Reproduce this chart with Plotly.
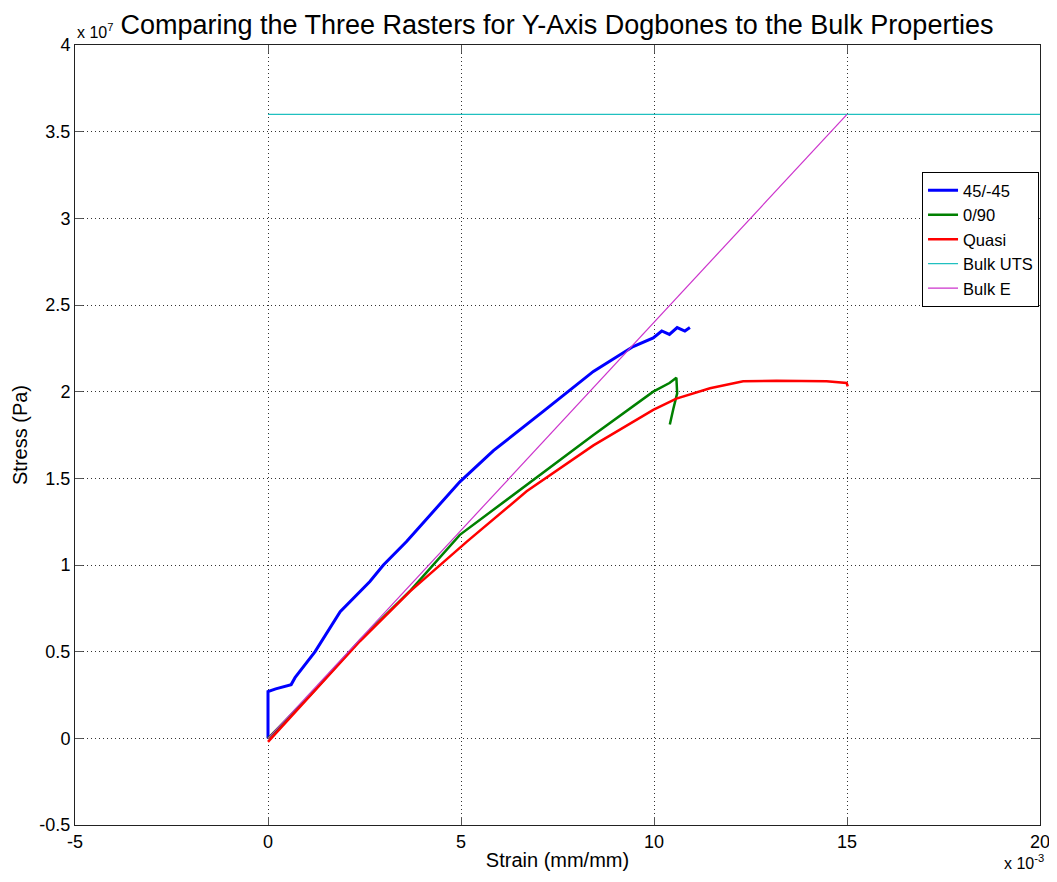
import plotly.graph_objects as go

# ---- data (strain in mm/mm, stress in Pa) ----
blue_strain = [0, 0, 0.0002, 0.0006, 0.0007, 0.00122, 0.00187, 0.00264, 0.00299, 0.00359,
               0.00497, 0.00584, 0.00713, 0.00843, 0.00946, 0.00998, 0.0102, 0.0104,
               0.0106, 0.0108, 0.01093]
blue_stress = [0, 2.7e6, 2.85e6, 3.1e6, 3.5e6, 5.0e6, 7.3e6, 9.05e6, 1.0e7, 1.136e7,
               1.48e7, 1.66e7, 1.886e7, 2.117e7, 2.26e7, 2.31e7, 2.35e7, 2.33e7,
               2.37e7, 2.35e7, 2.37e7]

green_strain = [0, 0.0011, 0.0024, 0.0037, 0.00497, 0.0067, 0.00843, 0.00998, 0.0104,
                0.01058, 0.0106, 0.0105, 0.01043, 0.01041]
green_stress = [0, 2.5e6, 5.7e6, 8.55e6, 1.174e7, 1.46e7, 1.75e7, 2.0e7, 2.05e7,
                2.08e7, 1.99e7, 1.9e7, 1.83e7, 1.81e7]

red_strain = [0, 0.0011, 0.00238, 0.00368, 0.00516, 0.0067, 0.00843, 0.00998, 0.01058,
              0.01145, 0.01231, 0.01317, 0.01447, 0.01499, 0.01502]
red_stress = [-2e5, 2.5e6, 5.6e6, 8.48e6, 1.136e7, 1.425e7, 1.69e7, 1.895e7, 1.96e7,
              2.02e7, 2.06e7, 2.063e7, 2.06e7, 2.05e7, 2.03e7]

uts_strain = [0, 0.020]
uts_stress = [3.6e7, 3.6e7]

bulkE_strain = [0, 0.015]
bulkE_stress = [0, 3.6e7]

x_tickvals = [-0.005, 0, 0.005, 0.010, 0.015, 0.020]
x_ticktext = ["-5", "0", "5", "10", "15", "20"]
y_tickvals = [-0.5e7, 0, 0.5e7, 1e7, 1.5e7, 2e7, 2.5e7, 3e7, 3.5e7, 4e7]
y_ticktext = ["-0.5", "0", "0.5", "1", "1.5", "2", "2.5", "3", "3.5", "4"]

FONT = "Liberation Sans, Arial, sans-serif"

fig = go.Figure()
fig.add_trace(go.Scatter(x=blue_strain, y=blue_stress, mode="lines", name="45/-45",
                         line=dict(color="#0000FF", width=3)))
fig.add_trace(go.Scatter(x=green_strain, y=green_stress, mode="lines", name="0/90",
                         line=dict(color="#008000", width=2.5)))
fig.add_trace(go.Scatter(x=red_strain, y=red_stress, mode="lines", name="Quasi",
                         line=dict(color="#FF0000", width=2.5)))
fig.add_trace(go.Scatter(x=uts_strain, y=uts_stress, mode="lines", name="Bulk UTS",
                         line=dict(color="#20C0C0", width=1.2)))
fig.add_trace(go.Scatter(x=bulkE_strain, y=bulkE_stress, mode="lines", name="Bulk E",
                         line=dict(color="#CC33CC", width=1.2)))

axis_common = dict(
    showline=True, linecolor="#222222", linewidth=1, mirror="allticks",
    ticks="inside", ticklen=8, tickcolor="#555555",
    showgrid=True, gridcolor="#333333", griddash="1px,3px", gridwidth=1,
    zeroline=False, tickfont=dict(family=FONT, size=18, color="black"),
    automargin=False, ticklabeloverflow="allow",
)

fig.update_xaxes(range=[-0.005, 0.020], tickvals=x_tickvals, ticktext=x_ticktext,
                 title=dict(text="Strain (mm/mm)", font=dict(family=FONT, size=20, color="black"),
                            standoff=2),
                 **axis_common)
fig.update_yaxes(range=[-0.5e7, 4e7], tickvals=y_tickvals, ticktext=y_ticktext,
                 title=dict(text="Stress (Pa)", font=dict(family=FONT, size=20, color="black"),
                            standoff=6),
                 **axis_common)

fig.update_layout(
    width=1049, height=866,
    margin=dict(l=67, r=17, t=37, b=49, autoexpand=False),
    paper_bgcolor="white", plot_bgcolor="white",
    font=dict(family=FONT, color="black"),
    title=dict(text="Comparing the Three Rasters for Y-Axis Dogbones to the Bulk Properties",
               font=dict(family=FONT, size=27, color="black"),
               x=0.5233, xanchor="center", y=0.981, yanchor="middle"),
    showlegend=True,
    legend=dict(x=0.999, xanchor="right", y=0.837, yanchor="top",
                bgcolor="white", bordercolor="black", borderwidth=1,
                font=dict(family=FONT, size=16.5, color="black"),
                tracegroupgap=0, itemwidth=30),
    annotations=[
        dict(text="x 10<sup>7</sup>", xref="paper", yref="paper", x=0.0, y=1.0,
             xanchor="left", yanchor="bottom", showarrow=False,
             font=dict(family=FONT, size=16, color="black"), yshift=2),
        dict(text="x 10<sup>-3</sup>", xref="paper", yref="paper", x=1.0, y=0.0,
             xanchor="right", yanchor="top", showarrow=False,
             font=dict(family=FONT, size=16, color="black"), yshift=-25, xshift=6),
    ],
)

fig.write_html("out.html")
